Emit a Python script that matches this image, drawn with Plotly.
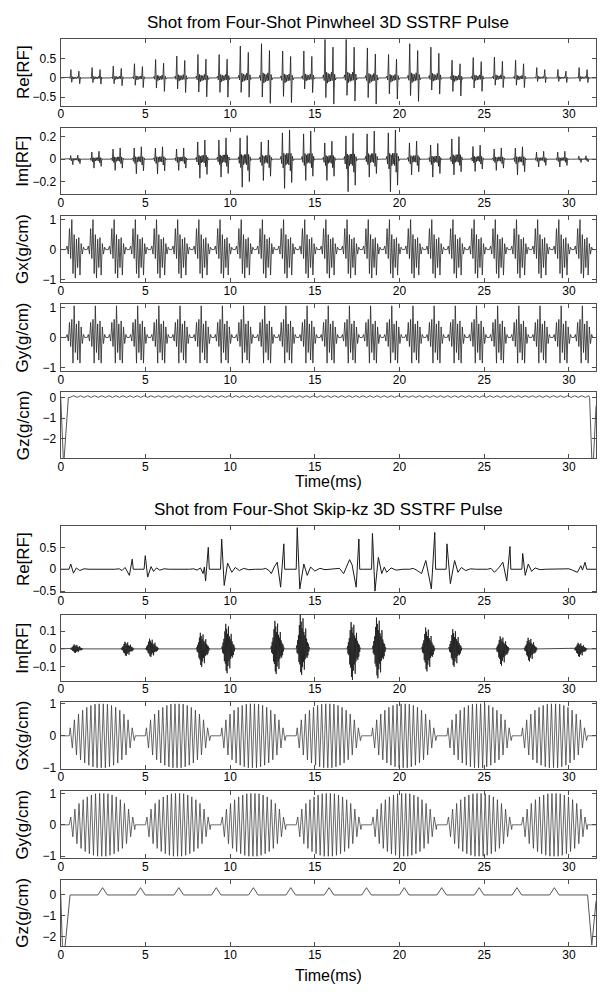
import plotly.graph_objects as go

# ---- data (time in ms) ----
T_END = 31.6

# pinwheel shot: 25 lobes, one per 1.25 ms
PW_LOBE_CENTERS = [0.86, 2.11, 3.36, 4.61, 5.86, 7.11, 8.36, 9.61, 10.86, 12.11, 13.36, 14.61, 15.86,
                   17.11, 18.36, 19.61, 20.86, 22.11, 23.36, 24.61, 25.86, 27.11, 28.36, 29.61, 30.86]
PW_RE_POS = [0.22, 0.27, 0.31, 0.37, 0.48, 0.57, 0.61, 0.61, 0.83, 0.89, 0.70, 0.70, 1.00,
             1.00, 0.78, 0.61, 0.89, 0.80, 0.46, 0.53, 0.54, 0.46, 0.27, 0.22, 0.27]
PW_RE_NEG = [-0.15, -0.16, -0.20, -0.25, -0.35, -0.38, -0.49, -0.50, -0.50, -0.66, -0.64, -0.38, -0.68,
             -0.60, -0.68, -0.55, -0.61, -0.42, -0.47, -0.35, -0.25, -0.25, -0.12, -0.12, -0.12]
PW_IM_POS = [0.036, 0.07, 0.10, 0.11, 0.11, 0.10, 0.17, 0.19, 0.21, 0.17, 0.26, 0.25, 0.16,
             0.23, 0.25, 0.26, 0.16, 0.14, 0.20, 0.125, 0.10, 0.11, 0.07, 0.07, 0.03]
PW_IM_NEG = [-0.05, -0.08, -0.10, -0.13, -0.13, -0.10, -0.17, -0.16, -0.25, -0.19, -0.26, -0.19, -0.19,
             -0.29, -0.16, -0.29, -0.14, -0.16, -0.14, -0.11, -0.10, -0.14, -0.07, -0.07, -0.03]
# shape of one lobe / sub-pulse (normalised peaks, left to right)
PW_RE_SHAPE = [0, 0.08, -0.1, 1.0, -0.75, 0.15, -0.2, 0.12, -0.15, 0.1, -0.12, 0.15, -0.1,
               0.8, -1.0, 0.1, -0.08, 0]
PW_IM_SHAPE = [0, 0.1, -0.15, 0.9, -0.3, 0.2, -1.0, 0.15, -0.2, 0.2, -0.15, 0.2, -0.2,
               1.0, -0.4, 0.2, -0.8, 0.1, -0.05, 0]
PW_GX_SHAPE = [0, 0.12, -0.15, 0.7, -0.3, 1.0, -0.8, 0.5, -0.95, 0.35, -0.6, 0.4, -0.85,
               0.2, -0.15, 0.08, 0]
PW_GY_SHAPE = [0, 0.1, -0.12, 0.5, -0.3, 0.6, -0.85, 1.05, -0.5, 0.45, -0.75, 0.55, -0.85,
               0.35, -0.2, 0.1, 0]
PW_GZ_RIPPLE = [0.08, 0.0, 0.08, 0.0, 0.08, 0.0]
PW_GZ_START_T = [0, 0.15, 0.2, 0.45]
PW_GZ_START_V = [0, -2.95, -2.95, 0]
PW_GZ_END_T = [31.22, 31.35, 31.45, 31.6]
PW_GZ_END_V = [0, -2.95, -2.95, -0.4]

# skip-kz shot
SK_RE_T = [0, 0.49, 0.59, 0.75, 0.92, 1.12, 1.37, 1.67,
           3.2, 3.45, 3.62, 3.8, 4.05, 4.22, 4.28, 4.92, 4.99, 5.13, 5.33, 5.48, 5.65, 5.85, 6.1, 6.4,
           7.6, 7.85, 8.05, 8.25, 8.4, 8.48, 8.55, 8.71, 8.77, 9.43, 9.5, 9.65, 9.85, 10.1, 10.3, 10.55, 10.8, 11.1, 11.5,
           11.9, 12.1, 12.3, 12.43, 12.6, 12.78, 12.98, 13.17, 13.22, 13.9, 13.96, 14.11, 14.35, 14.55, 14.75, 15.0, 15.3, 15.6, 15.9,
           16.2, 16.45, 16.7, 16.85, 17.05, 17.2, 17.44, 17.6, 17.65, 18.35, 18.4, 18.55, 18.75, 18.95, 19.1, 19.24, 19.5, 19.8, 20.2,
           20.6, 20.81, 21.05, 21.3, 21.55, 21.88, 22.08, 22.13, 22.75, 22.8, 23.0, 23.25, 23.45, 23.65, 23.9, 24.2, 24.5,
           25.2, 25.4, 25.6, 25.85, 26.1, 26.33, 26.52, 26.57, 27.22, 27.27, 27.42, 27.6, 27.8, 28.0, 28.3, 28.6,
           29.8, 30.0, 30.2, 30.5, 30.7, 30.8, 30.95, 31.05, 31.6]
SK_RE_V = [0, 0, 0.12, -0.09, 0.03, -0.03, 0.01, 0,
           0, 0.01, -0.03, 0.04, -0.14, 0.23, 0, 0, 0.31, -0.18, 0.06, -0.05, 0.03, -0.02, 0.01, 0,
           0, 0.01, -0.02, 0.03, -0.1, 0.05, -0.27, 0.5, 0, 0, 0.69, -0.37, 0.14, -0.07, 0.04, -0.03, 0.02, -0.01, 0,
           0, 0.02, -0.03, -0.1, 0.05, 0.16, -0.41, 0.58, 0, 0, 0.95, -0.45, 0.12, -0.14, 0.05, -0.04, 0.02, -0.01, 0,
           0, 0.02, -0.1, 0.03, 0.22, 0.1, -0.41, 0.69, 0, 0, 0.82, -0.5, 0.27, -0.1, 0.05, -0.07, 0.03, -0.02, 0,
           0, 0.02, -0.03, -0.1, 0.2, -0.45, 0.84, 0, 0, 0.58, -0.33, 0.2, -0.07, 0.04, -0.03, 0.01, 0,
           0, 0.02, -0.07, 0.03, 0.16, -0.27, 0.52, 0, 0, 0.36, -0.14, 0.12, -0.05, 0.03, -0.01, 0,
           0, 0.01, -0.02, -0.07, 0.08, -0.02, 0.16, 0, 0]
SK_IM_CENTERS = [0.95, 3.95, 5.4, 8.4, 9.9, 12.8, 14.3, 17.3, 18.8, 21.7, 23.3, 26.1, 27.75, 30.7]
SK_IM_POS = [0.025, 0.04, 0.057, 0.09, 0.14, 0.157, 0.19, 0.15, 0.175, 0.12, 0.11, 0.07, 0.062, 0.034]
SK_IM_NEG = [-0.023, -0.04, -0.045, -0.1, -0.136, -0.14, -0.145, -0.174, -0.164, -0.126, -0.1, -0.094, -0.07, -0.045]
SK_IM_SHAPE = [0, 0.1, -0.15, 0.25, -0.2, 0.4, -0.5, 0.7, -0.6, 1.0, -0.9, 0.8, -1.0, 0.6, -0.7, 0.9,
               -0.5, 0.5, -0.8, 0.4, -0.4, 0.6, -0.3, 0.3, -0.35, 0.2, -0.25, 0.15, -0.1, 0.05, 0]
SK_LOBE_START = [0.5, 5.0, 9.45, 13.9, 18.35, 22.8, 27.2]
SK_LOBE_END = [4.4, 8.85, 13.3, 17.75, 22.2, 26.65, 31.1]
SK_ENVELOPE = [0.25, 0.38, 0.5, 0.6, 0.68, 0.75, 0.8, 0.85, 0.89, 0.92, 0.95, 0.97, 0.99, 1.0, 1.0, 1.0,
               1.0, 1.0, 0.99, 0.97, 0.95, 0.92, 0.89, 0.85, 0.8, 0.75, 0.68, 0.6, 0.5, 0.38, 0.25, 0.15]
SK_GZ_BLIPS = [2.47, 4.71, 6.97, 9.18, 11.37, 13.58, 15.84, 18.05, 20.28, 22.49, 24.70, 26.93, 29.14]
SK_GZ_BLIP_H = 0.35
SK_GZ_START_T = [0, 0.1, 0.25, 0.55]
SK_GZ_START_V = [0, -2.5, -2.5, 0]
SK_GZ_END_T = [31.1, 31.35, 31.6]
SK_GZ_END_V = [0, -2.4, -0.3]


def lobes(centers, width, shape, pos=None, neg=None):
    t, v = [0.0], [0.0]
    n = len(shape)
    for k, c in enumerate(centers):
        for i, s in enumerate(shape):
            t.append(c - width / 2 + width * i / (n - 1))
            if pos is None:
                v.append(s)
            else:
                v.append(s * pos[k] if s >= 0 else -s * neg[k])
    t.append(T_END)
    v.append(0.0)
    return t, v


def pw_gz():
    t, v = list(PW_GZ_START_T), list(PW_GZ_START_V)
    n = len(PW_GZ_RIPPLE)
    for c in PW_LOBE_CENTERS:
        for i, r in enumerate(PW_GZ_RIPPLE):
            tt = c - 0.625 + 1.25 * (i + 0.5) / n
            if 0.5 < tt < 31.2:
                t.append(tt)
                v.append(r)
    return t + PW_GZ_END_T, v + PW_GZ_END_V


def sk_grad(shift):
    t, v = [0.0], [0.0]
    n = len(SK_ENVELOPE)
    for a, b in zip(SK_LOBE_START, SK_LOBE_END):
        t.append(a); v.append(0.0)
        for i, e in enumerate(SK_ENVELOPE):
            t.append(a + (b - a) * (i + shift) / n)
            v.append(e if i % 2 == 0 else -e)
        t.append(b); v.append(0.0)
    t.append(T_END); v.append(0.0)
    return t, v


def sk_gz():
    t, v = list(SK_GZ_START_T), list(SK_GZ_START_V)
    for c in SK_GZ_BLIPS:
        t += [c - 0.28, c, c + 0.28]
        v += [0, SK_GZ_BLIP_H, 0]
    return t + SK_GZ_END_T, v + SK_GZ_END_V


# (t, v, ylabel, yrange, yticks, panel top/bottom in page px, line colour, line width)
panels = [
    (*lobes(PW_LOBE_CENTERS, 0.8, PW_RE_SHAPE, PW_RE_POS, PW_RE_NEG), "Re[RF]", [-0.72, 1.02], [-0.5, 0, 0.5], [34, 101.7], "#1a1a1a", 0.8),
    (*lobes(PW_LOBE_CENTERS, 0.8, PW_IM_SHAPE, PW_IM_POS, PW_IM_NEG), "Im[RF]", [-0.31, 0.28], [-0.2, 0, 0.2], [124, 191], "#1a1a1a", 0.8),
    (*lobes(PW_LOBE_CENTERS, 1.1, PW_GX_SHAPE), "Gx(g/cm)", [-1.08, 1.12], [-1, 0, 1], [213.3, 280], "#262626", 0.8),
    (*lobes(PW_LOBE_CENTERS, 1.1, PW_GY_SHAPE), "Gy(g/cm)", [-1.11, 1.11], [-1, 0, 1], [302.3, 370], "#262626", 0.8),
    (*pw_gz(), "Gz(g/cm)", [-2.93, 0.24], [-2, -1, 0], [391.7, 458.3], "#555", 1),
    (SK_RE_T, SK_RE_V, "Re[RF]", [-0.53, 0.99], [-0.5, 0, 0.5], [526.7, 594], "#1a1a1a", 1),
    (*lobes(SK_IM_CENTERS, 0.8, SK_IM_SHAPE, SK_IM_POS, SK_IM_NEG), "Im[RF]", [-0.178, 0.19], [-0.1, 0, 0.1], [616.7, 683.3], "#1a1a1a", 0.8),
    (*sk_grad(0.5), "Gx(g/cm)", [-1.03, 1.05], [-1, 0, 1], [705, 772.3], "#3a3a3a", 0.75),
    (*sk_grad(0.75), "Gy(g/cm)", [-1.06, 1.07], [-1, 0, 1], [795, 862.7], "#3a3a3a", 0.75),
    (*sk_gz(), "Gz(g/cm)", [-2.45, 0.74], [-2, -1, 0], [884.3, 951.7], "#555", 1),
]

OFF = 8          # page body margin of the html file
W, H = 596, 984  # fits inside the 612x1000 window with that margin
x_dom = [(58 - OFF) / W, (596 - OFF) / W]
font = "Liberation Sans, Arial, Helvetica, sans-serif"


def py(px):
    return 1 - (px - OFF) / H


fig = go.Figure()
layout = dict(
    width=W, height=H, margin=dict(l=0, r=0, t=0, b=0),
    paper_bgcolor="white", plot_bgcolor="white", showlegend=False,
    font=dict(family=font, color="black", size=12),
)
annotations = []
for i, (t, v, lab, yr, yt, dom, col, lw) in enumerate(panels):
    n = "" if i == 0 else str(i + 1)
    fig.add_trace(go.Scatter(x=t, y=v, mode="lines", xaxis="x" + n, yaxis="y" + n,
                             line=dict(color=col, width=lw), hoverinfo="skip"))
    axis_common = dict(showline=True, linecolor="#4d4d4d", linewidth=1.4, mirror="ticks",
                       ticks="inside", ticklen=4, tickcolor="#4d4d4d", showgrid=False,
                       zeroline=False, tickfont=dict(size=12, family=font))
    layout["xaxis" + n] = dict(axis_common, domain=x_dom, anchor="y" + n, range=[0, T_END],
                               tickvals=[0, 5, 10, 15, 20, 25, 30], ticklabelstandoff=-3)
    layout["yaxis" + n] = dict(axis_common, domain=[py(dom[1]), py(dom[0])], anchor="x" + n,
                               range=yr, tickvals=yt, ticklabelstandoff=1)
    annotations.append(dict(text=lab, textangle=-90, x=(20 - OFF) / W, y=py((dom[0] + dom[1]) / 2),
                            xref="paper", yref="paper", showarrow=False,
                            font=dict(size=17, family=font), xanchor="center", yanchor="middle"))

mid = ((58 + 596) / 2 - OFF) / W
for txt, ypx, fs in [("Shot from Four-Shot Pinwheel 3D SSTRF Pulse", 18, 17),
                     ("Shot from Four-Shot Skip-kz 3D SSTRF Pulse", 510, 17),
                     ("Time(ms)", 482, 16), ("Time(ms)", 981, 16)]:
    annotations.append(dict(text=txt, x=mid, y=py(ypx), xref="paper", yref="paper",
                            showarrow=False, xanchor="center", yanchor="middle",
                            font=dict(size=fs, family=font)))
layout["annotations"] = annotations
fig.update_layout(**layout)
fig.write_html("out.html")
